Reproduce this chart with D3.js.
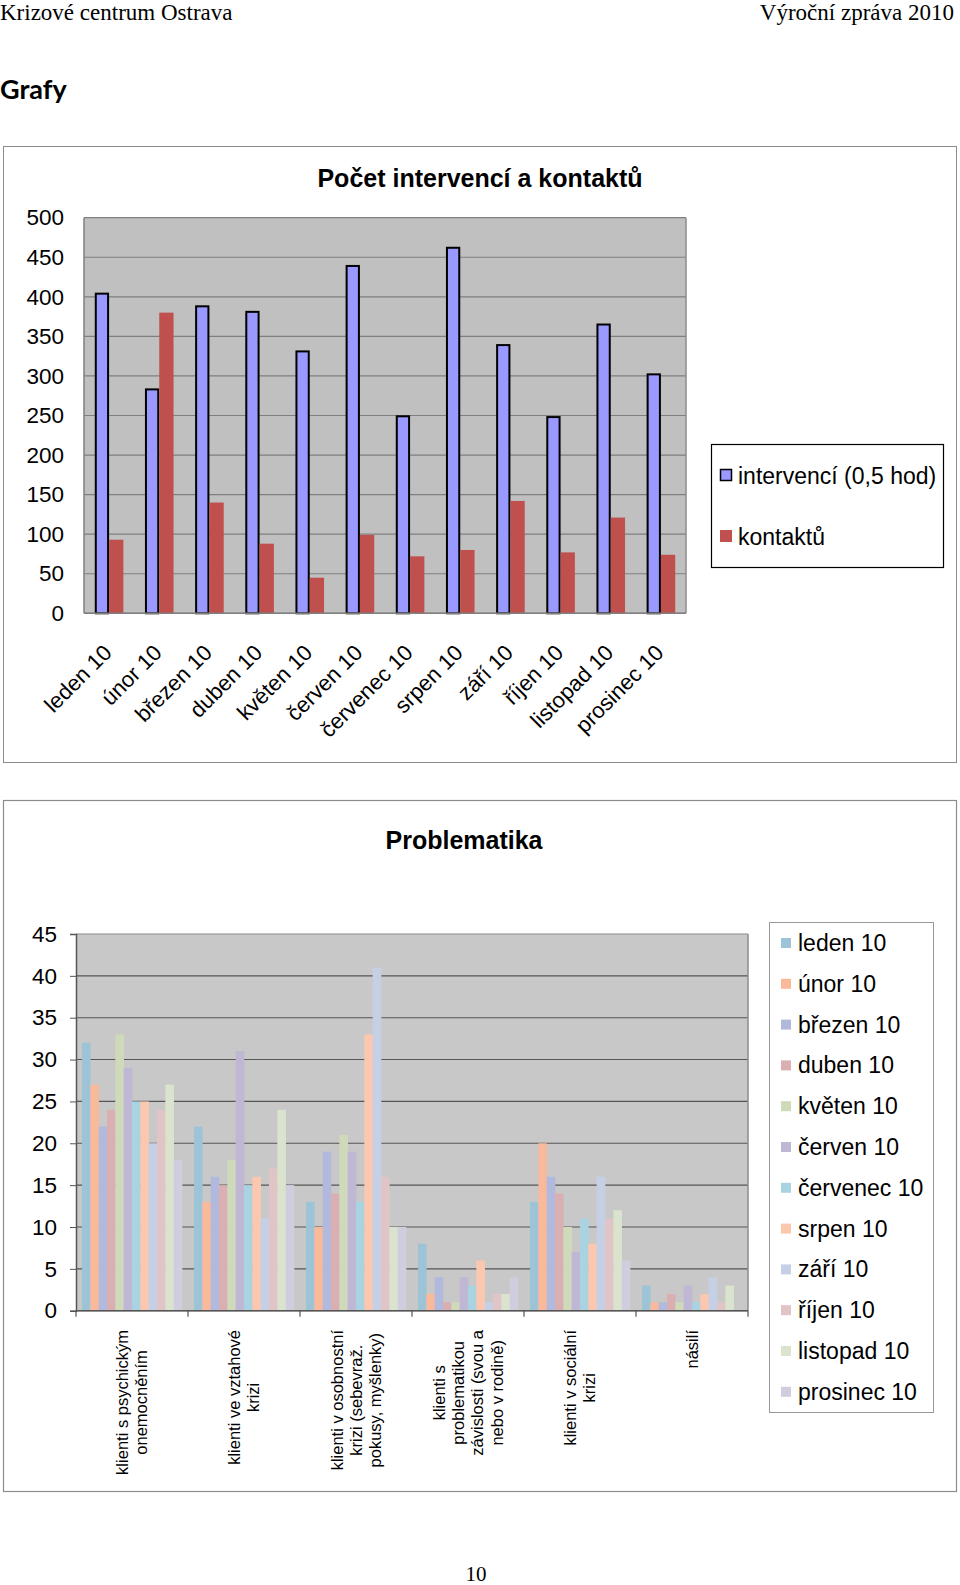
<!DOCTYPE html>
<html>
<head>
<meta charset="utf-8">
<script src="https://cdn.jsdelivr.net/npm/d3@7"></script>
<style>
  html, body { margin: 0; padding: 0; background: #fff; }
  svg { display: block; }
</style>
</head>
<body>
<svg id="page" width="960" height="1585"></svg>
<script>
// ---------- DATA ----------
const months = ["leden 10","únor 10","březen 10","duben 10","květen 10","červen 10",
                "červenec 10","srpen 10","září 10","říjen 10","listopad 10","prosinec 10"];
const seriesNames1 = ["intervencí (0,5 hod)","kontaktů"];
const intervenci = [404,283,388,381,331,439,249,462,339,248,365,302];
const kontaktu   = [93,380,140,88,45,99,72,80,142,77,121,74];
const yTicks1 = [0,50,100,150,200,250,300,350,400,450,500];

const problemCategories = [
  ["klienti s psychickým","onemocněním"],
  ["klienti ve vztahové","krizi"],
  ["klienti v osobnostní","krizi (sebevraž.","pokusy, myšlenky)"],
  ["klienti s","problematikou","závislosti (svou a","nebo v rodině)"],
  ["klienti v sociální","krizi"],
  ["násilí"]
];
const leden10    = [32,22,13,8,13,3];
const unor10     = [27,13,10,2,20,1];
const brezen10   = [22,16,19,4,16,1];
const duben10    = [24,15,14,1,14,2];
const kveten10   = [33,18,21,1,10,1];
const cerven10   = [29,31,19,4,7,3];
const cervenec10 = [25,15,13,3,11,1];
const srpen10    = [25,16,33,6,8,2];
const zari10     = [20,11,41,1,16,4];
const rijen10    = [24,17,16,2,11,1];
const listopad10 = [27,24,10,2,12,3];
const prosinec10 = [18,15,10,4,6,0];
const yTicks2 = [0,5,10,15,20,25,30,35,40,45];

// ---------- STYLE ----------
const SANS = "'Liberation Sans', Arial, sans-serif";
const SERIF = "'Liberation Serif', 'Times New Roman', serif";
const colors1 = ["#9999FF","#C0504D"];
const colors2 = ["#9DC4D6","#F9B99B","#B1BADD","#DAAFB1","#CEDAB9","#C0B7D4",
                 "#AAD3E1","#FBC8AF","#C5D0E6","#E1C4C6","#D9E3CD","#D0CDDF"];

const svg = d3.select("#page");

// ---------- PAGE HEADER ----------
svg.append("text").attr("x",0).attr("y",20).attr("font-family",SERIF).attr("font-size",23)
  .text("Krizové centrum Ostrava");
svg.append("text").attr("x",954).attr("y",20).attr("text-anchor","end").attr("font-family",SERIF).attr("font-size",23)
  .text("Výroční zpráva 2010");
svg.append("text").attr("x",0).attr("y",99).attr("font-family","Lato, 'Open Sans', sans-serif")
  .attr("font-weight","bold").attr("font-size",27).text("Grafy");
svg.append("text").attr("x",476).attr("y",1581).attr("text-anchor","middle").attr("font-family",SERIF).attr("font-size",21)
  .text("10");

// ---------- CHART 1 ----------
const c1 = svg.append("g");
c1.append("rect").attr("x",3.5).attr("y",146.5).attr("width",953).attr("height",616)
  .attr("fill","#fff").attr("stroke","#8c8c8c").attr("stroke-width",1);
c1.append("text").attr("x",480).attr("y",187).attr("text-anchor","middle")
  .attr("font-family",SANS).attr("font-weight","bold").attr("font-size",25)
  .text("Počet intervencí a kontaktů");

const p1 = {left:84, right:686, top:217.7, bottom:613.3};
const x1 = d3.scaleBand().domain(months).range([p1.left,p1.right]).paddingInner(0.43).paddingOuter(0.215);
const xs1 = d3.scaleBand().domain(seriesNames1).range([0,x1.bandwidth()]);
const y1 = d3.scaleLinear().domain([0,500]).range([p1.bottom,p1.top]);

c1.append("rect").attr("x",p1.left).attr("y",p1.top).attr("width",p1.right-p1.left).attr("height",p1.bottom-p1.top)
  .attr("fill","#C0C0C0");
c1.append("g").selectAll("line").data(yTicks1).join("line")
  .attr("x1",p1.left).attr("x2",p1.right).attr("y1",d=>y1(d)).attr("y2",d=>y1(d))
  .attr("stroke","#7f7f7f").attr("stroke-width",1.2);
c1.append("line").attr("x1",p1.left).attr("x2",p1.left).attr("y1",p1.top).attr("y2",p1.bottom)
  .attr("stroke","#7f7f7f").attr("stroke-width",1.5);
c1.append("line").attr("x1",p1.right).attr("x2",p1.right).attr("y1",p1.top).attr("y2",p1.bottom)
  .attr("stroke","#8c8c8c").attr("stroke-width",1.5);

const yAxis1 = d3.axisLeft(y1).tickValues(yTicks1).tickSize(0).tickPadding(20);
const ya1 = c1.append("g").attr("transform",`translate(${p1.left},0)`).call(yAxis1);
ya1.select(".domain").remove();
ya1.selectAll("text").attr("font-family",SANS).attr("font-size",22.5).attr("fill","#000");

const data1 = months.map((m,i)=>({m, vals:[intervenci[i],kontaktu[i]]}));
const g1 = c1.append("g").selectAll("g").data(data1).join("g").attr("transform",d=>`translate(${x1(d.m)},0)`);
g1.append("rect")
  .attr("x",xs1(seriesNames1[0])+1).attr("width",xs1.bandwidth()-2)
  .attr("y",d=>y1(d.vals[0])).attr("height",d=>y1(0)-y1(d.vals[0]))
  .attr("fill",colors1[0]).attr("stroke","#000").attr("stroke-width",2);
g1.append("rect")
  .attr("x",xs1(seriesNames1[1])).attr("width",xs1.bandwidth())
  .attr("y",d=>y1(d.vals[1])).attr("height",d=>y1(0)-y1(d.vals[1]))
  .attr("fill",colors1[1]);
c1.append("line").attr("x1",p1.left).attr("x2",p1.right).attr("y1",p1.bottom).attr("y2",p1.bottom)
  .attr("stroke","#7f7f7f").attr("stroke-width",1.5);

// x labels
c1.append("g").selectAll("text").data(months).join("text")
  .attr("transform",d=>`translate(${x1(d)+x1.bandwidth()/2+4},654) rotate(-45)`)
  .attr("text-anchor","end").attr("font-family",SANS).attr("font-size",22).text(d=>d);

// legend 1
const lg1 = c1.append("g");
lg1.append("rect").attr("x",711.5).attr("y",444.5).attr("width",232).attr("height",123)
  .attr("fill","#fff").attr("stroke","#000").attr("stroke-width",1.2);
const lgi1 = lg1.selectAll("g").data(seriesNames1).join("g")
  .attr("transform",(d,i)=>`translate(720,${469+i*61})`);
lgi1.append("rect").attr("x",(d,i)=>i===0?0.5:0).attr("y",(d,i)=>i===0?0.5:0)
  .attr("width",(d,i)=>i===0?11:12).attr("height",(d,i)=>i===0?11:12)
  .attr("fill",(d,i)=>colors1[i]).attr("stroke",(d,i)=>i===0?"#000":"none").attr("stroke-width",1.5);
lgi1.append("text").attr("x",18).attr("y",15).attr("font-family",SANS).attr("font-size",23).text(d=>d);

// ---------- CHART 2 ----------
const c2 = svg.append("g");
c2.append("rect").attr("x",3.5).attr("y",800.5).attr("width",953).attr("height",691)
  .attr("fill","#fff").attr("stroke","#8c8c8c").attr("stroke-width",1.2);
c2.append("text").attr("x",464).attr("y",849).attr("text-anchor","middle")
  .attr("font-family",SANS).attr("font-weight","bold").attr("font-size",25).text("Problematika");

const p2 = {left:76, right:748, top:934, bottom:1310.7};
const catKeys = problemCategories.map((d,i)=>i);
const series2 = [leden10,unor10,brezen10,duben10,kveten10,cerven10,cervenec10,srpen10,zari10,rijen10,listopad10,prosinec10];
const x2 = d3.scaleBand().domain(catKeys).range([p2.left,p2.right]).paddingInner(0.107).paddingOuter(0.0535);
const xs2 = d3.scaleBand().domain(months).range([0,x2.bandwidth()]);
const y2 = d3.scaleLinear().domain([0,45]).range([p2.bottom,p2.top]);

c2.append("rect").attr("x",p2.left).attr("y",p2.top).attr("width",p2.right-p2.left).attr("height",p2.bottom-p2.top)
  .attr("fill","#C8C8C8");
c2.append("g").selectAll("line").data(yTicks2).join("line")
  .attr("x1",p2.left).attr("x2",p2.right).attr("y1",d=>y2(d)).attr("y2",d=>y2(d))
  .attr("stroke",d=>d===45?"#8c8c8c":"#555").attr("stroke-width",1.1);
c2.append("line").attr("x1",p2.right).attr("x2",p2.right).attr("y1",p2.top).attr("y2",p2.bottom)
  .attr("stroke","#8c8c8c").attr("stroke-width",1.5);

const cells = [];
catKeys.forEach(c=>months.forEach((m,s)=>cells.push({c,m,s,v:series2[s][c]})));
c2.append("g").selectAll("rect").data(cells).join("rect")
  .attr("x",d=>x2(d.c)+xs2(d.m)).attr("width",xs2.bandwidth()+0.3)
  .attr("y",d=>y2(d.v)).attr("height",d=>y2(0)-y2(d.v))
  .attr("fill",d=>colors2[d.s]);

const yAxis2 = d3.axisLeft(y2).tickValues(yTicks2).tickSize(6).tickPadding(13);
const ya2 = c2.append("g").attr("transform",`translate(${p2.left},0)`).call(yAxis2);
ya2.select(".domain").attr("stroke","#555").attr("stroke-width",1.5);
ya2.selectAll("line").attr("stroke","#555");
ya2.selectAll("text").attr("font-family",SANS).attr("font-size",22.5).attr("fill","#000");

const bounds = d3.range(problemCategories.length+1).map(i=>p2.left+i*(p2.right-p2.left)/problemCategories.length);
c2.append("line").attr("x1",p2.left).attr("x2",p2.right).attr("y1",p2.bottom).attr("y2",p2.bottom)
  .attr("stroke","#555").attr("stroke-width",1.5);
c2.append("g").selectAll("line").data(bounds).join("line")
  .attr("x1",d=>d).attr("x2",d=>d).attr("y1",p2.bottom).attr("y2",p2.bottom+6)
  .attr("stroke","#555").attr("stroke-width",1.2);

// category labels (rotated -90, multiline, top aligned, lines centered)
const catG = c2.append("g").selectAll("g").data(problemCategories).join("g")
  .attr("transform",(d,i)=>`translate(${x2(i)+x2.bandwidth()/2},1330) rotate(-90)`);
catG.each(function(lines){
  const g = d3.select(this);
  const ts = g.selectAll("text").data(lines).join("text")
    .attr("font-family",SANS).attr("font-size",16.5).attr("text-anchor","middle")
    .attr("dy","0.35em")
    .attr("y",(d,i)=>(i-(lines.length-1)/2)*19.2)
    .text(d=>d);
  let maxLen = 0;
  ts.each(function(){ maxLen = Math.max(maxLen,this.getComputedTextLength()); });
  ts.attr("x",-maxLen/2);
});

// legend 2
const lg2 = c2.append("g");
lg2.append("rect").attr("x",769.5).attr("y",922.5).attr("width",164).attr("height",490)
  .attr("fill","#fff").attr("stroke","#999").attr("stroke-width",1);
const lgi2 = lg2.selectAll("g").data(months).join("g")
  .attr("transform",(d,i)=>`translate(781,${938+i*40.8})`);
lgi2.append("rect").attr("width",10).attr("height",10).attr("fill",(d,i)=>colors2[i]);
lgi2.append("text").attr("x",17).attr("y",13).attr("font-family",SANS).attr("font-size",23).text(d=>d);
</script>
</body>
</html>
